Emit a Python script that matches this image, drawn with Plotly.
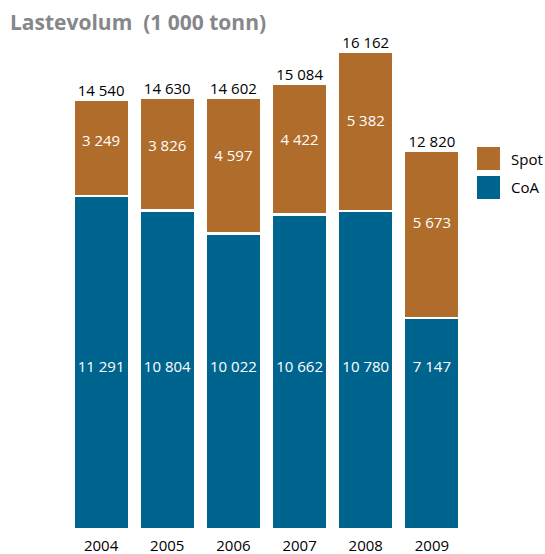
import plotly.graph_objects as go

years = ["2004", "2005", "2006", "2007", "2008", "2009"]
coa = [11291, 10804, 10022, 10662, 10780, 7147]
spot = [3249, 3826, 4597, 4422, 5382, 5673]
totals = [14540, 14630, 14602, 15084, 16162, 12820]

ORANGE = "#B06C2B"
BLUE = "#00658E"
FONT = "Open Sans"

W, H = 545, 554
L, R, T, B = 68, 80, 40, 25
PW, PH = W - L - R, H - T - B


def fmt(v):
    return f"{v:,}".replace(",", " ")


fig = go.Figure()
fig.add_trace(go.Bar(x=years, y=coa, name="CoA",
                     marker=dict(color=BLUE, line=dict(color="white", width=2.5))))
fig.add_trace(go.Bar(x=years, y=spot, name="Spot",
                     marker=dict(color=ORANGE, line=dict(color="white", width=2.5))))

white_font = dict(color="white", size=15, family=FONT)
fig.add_trace(go.Scatter(x=years, y=[5450] * len(years), mode="text", cliponaxis=False,
                         text=[fmt(v) for v in coa], textposition="middle center",
                         textfont=white_font))
fig.add_trace(go.Scatter(x=years, y=[c + s * 0.56 for c, s in zip(coa, spot)], mode="text",
                         cliponaxis=False,
                         text=[fmt(v) for v in spot], textposition="middle center",
                         textfont=white_font))
fig.add_trace(go.Scatter(x=years, y=totals, mode="text", cliponaxis=False,
                         text=[fmt(v) for v in totals], textposition="top center",
                         textfont=dict(color="black", size=15, family=FONT)))

ann = [dict(xref="paper", yref="paper", x=(8 - L) / PW, y=1 + (T - 22) / PH,
            xanchor="left", yanchor="middle",
            text="<b>Lastevolum  (1 000 tonn)</b>", showarrow=False,
            font=dict(color="#85878A", size=21, family=FONT))]

shapes = []
for label, color, ytop in [("Spot", ORANGE, 147), ("CoA", BLUE, 176)]:
    shapes.append(dict(type="rect", xref="paper", yref="paper",
                       x0=(477 - L) / PW, x1=(500 - L) / PW,
                       y0=(H - B - (ytop + 23)) / PH, y1=(H - B - ytop) / PH,
                       fillcolor=color, line=dict(width=0)))
    ann.append(dict(xref="paper", yref="paper", x=(509 - L) / PW,
                    y=(H - B - (ytop + 11.5)) / PH,
                    xanchor="left", yanchor="middle", text=label, showarrow=False,
                    font=dict(color="black", size=15, family=FONT)))

fig.update_layout(
    width=W, height=H,
    margin=dict(l=L, r=R, t=T, b=B, autoexpand=False),
    barmode="stack", bargap=0.16,
    plot_bgcolor="white", paper_bgcolor="white",
    showlegend=False, hovermode=False,
    annotations=ann, shapes=shapes,
    xaxis=dict(type="category", showline=False, ticks="", ticklabelstandoff=6,
               tickfont=dict(size=15, color="black", family=FONT), showgrid=False),
    yaxis=dict(range=[0, 16576], visible=False, showgrid=False),
    font=dict(family=FONT),
)
fig.write_html("out.html", config={"displayModeBar": False},
               post_script="document.body.style.margin='0';")
